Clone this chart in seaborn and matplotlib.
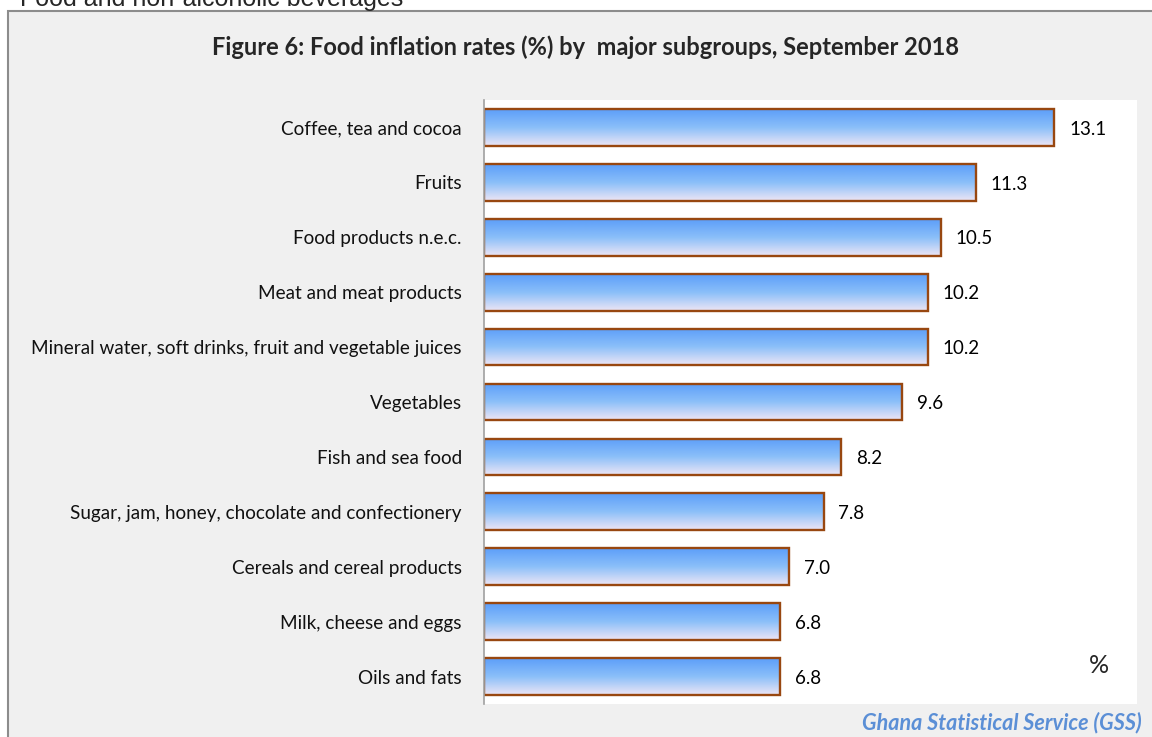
import numpy as np
import pandas as pd
import matplotlib
matplotlib.use("Agg")
import matplotlib.pyplot as plt
import seaborn as sns
from matplotlib.colors import LinearSegmentedColormap
from matplotlib.patches import Rectangle

# data
subgroups = [
    "Coffee, tea and cocoa",
    "Fruits",
    "Food products n.e.c.",
    "Meat and meat products",
    "Mineral water, soft drinks, fruit and vegetable juices",
    "Vegetables",
    "Fish and sea food",
    "Sugar, jam, honey, chocolate and confectionery",
    "Cereals and cereal products",
    "Milk, cheese and eggs",
    "Oils and fats",
]
rates = [13.1, 11.3, 10.5, 10.2, 10.2, 9.6, 8.2, 7.8, 7.0, 6.8, 6.8]

df = pd.DataFrame({"subgroup": subgroups, "rate": rates})

sns.set_theme(style="white")
plt.rcParams["font.family"] = ["Lato", "DejaVu Sans"]

fig = plt.figure(figsize=(11.52, 7.37), dpi=100)
fig.patch.set_facecolor("white")

# gray frame around the chart
frame = Rectangle((8 / 1152, -0.05), 1.2, 1 - 11 / 737 + 0.05,
                  transform=fig.transFigure, facecolor="#f0f0f0",
                  edgecolor="#8c8c8c", linewidth=1.5, zorder=-10)
fig.patches.append(frame)

ax = fig.add_axes([484 / 1152, 33 / 737, (1137 - 484) / 1152, (704 - 100) / 737])
ax.set_facecolor("white")
ax.set_zorder(1)

sns.barplot(data=df, x="rate", y="subgroup", ax=ax, orient="h",
            width=0.67, color="#8bbff9", edgecolor="#984710", linewidth=1.7)

# gradient fill for each bar (blue at top fading to pale lilac)
cmap = LinearSegmentedColormap.from_list(
    "grad", ["#5c9ef9", "#8bbff9", "#eee6f5"])
grad = np.linspace(0, 1, 256).reshape(-1, 1)
for p in list(ax.patches):
    x0, y0 = p.get_x(), p.get_y()
    w, h = p.get_width(), p.get_height()
    im = ax.imshow(grad, cmap=cmap, aspect="auto", origin="upper",
                   extent=[x0, x0 + w, y0 + h, y0], zorder=1,
                   interpolation="bilinear")
    im.set_clip_path(p)
    p.set_facecolor("none")
    p.set_zorder(2)

for i, v in enumerate(rates):
    ax.text(v + 0.34, i + 0.03, f"{v:.1f}", va="center", ha="left",
            fontsize=13.5, color="black")

ax.set_xlim(0, 15)
ax.set_ylim(10.5, -0.5)
ax.set_xlabel("")
ax.set_ylabel("")
ax.set_xticks([])
ax.tick_params(axis="y", length=0, pad=16, labelsize=13.6, labelcolor="#111111")
for s in ["top", "right", "bottom"]:
    ax.spines[s].set_visible(False)
ax.spines["left"].set_color("#a0a0a0")
ax.spines["left"].set_linewidth(1.2)

ax.text(13.9, 9.8, "%", fontsize=18, ha="left", va="center")

fig.text(585 / 1152, 1 - 47 / 737, "Figure 6: Food inflation rates (%) by  major subgroups, September 2018",
         ha="center", va="center", fontsize=17, fontweight="bold")
fig.text(1142 / 1152, 1 - 723 / 737, "Ghana Statistical Service (GSS)",
         ha="right", va="center", fontsize=15.5, fontweight="bold",
         style="italic", color="#5b8fd6")
fig.text(20 / 1152, 1 + 1 / 737, "Food and non-alcoholic beverages",
         ha="left", va="center", fontsize=18, family=["Liberation Sans"])

fig.savefig("out.png", dpi=100)
